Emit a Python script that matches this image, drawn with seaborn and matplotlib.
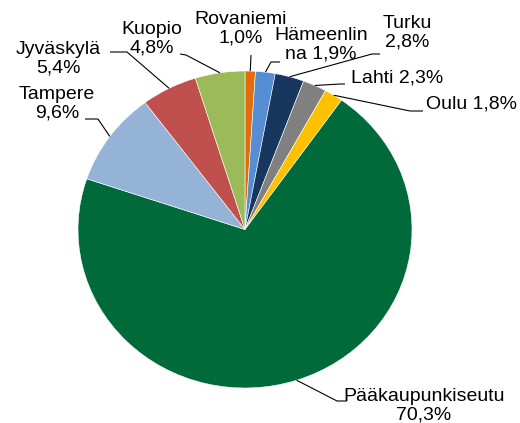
import numpy as np
import matplotlib
matplotlib.use("Agg")
import matplotlib.pyplot as plt
import seaborn as sns

# data
cities = ["Rovaniemi", "Hämeenlinna", "Turku", "Lahti", "Oulu",
          "Pääkaupunkiseutu", "Tampere", "Jyväskylä", "Kuopio"]
shares = [1.0, 1.9, 2.8, 2.3, 1.8, 70.3, 9.6, 5.4, 4.8]
label_texts = ["Rovaniemi\n1,0%", "Hämeenlin\nna 1,9%", "Turku\n2,8%",
               "Lahti 2,3%", "Oulu 1,8%", "Pääkaupunkiseutu\n70,3%",
               "Tampere\n9,6%", "Jyväskylä\n5,4%", "Kuopio\n4,8%"]
colors = ["#E46C0A", "#558ED5", "#17375E", "#808080", "#FFC000",
          "#006A3A", "#95B3D7", "#C0504D", "#9BBB59"]

# label layout in pixels: text centre, line start, elbow
label_pos = [(241, 29), (321, 45), (407, 33), (397, 78), (471, 104),
             (424, 406), (57, 104), (58, 59), (152, 39)]
line_start = [(251, 55), (280, 62), (380, 54), (345, 84), (423, 111),
              (347, 401), (85, 119), (110, 52), (180, 54)]
line_elbow = [(251, 55), (271, 62), (372, 54), (340, 84), (410, 111),
              (337, 401), (98, 119), (127, 52), (186, 55)]

sns.set_theme(style="white")
plt.rcParams['font.family'] = ['Liberation Sans', 'DejaVu Sans']

W, H = 520, 423
CX, CY, RX, RY = 245, 229.5, 167, 158.5


def px2d(p):
    return ((p[0] - CX) / RX, (CY - p[1]) / RY)


fig = plt.figure(figsize=(W / 100, H / 100), dpi=100)
ax = fig.add_axes([(CX - RX) / W, (H - CY - RY) / H, 2 * RX / W, 2 * RY / H])
wedges, _ = ax.pie(shares, colors=colors, startangle=90, counterclock=False,
                   wedgeprops=dict(edgecolor="white", linewidth=0.4))
ax.set_aspect("auto")
ax.set_xlim(-1, 1)
ax.set_ylim(-1, 1)
ax.axis("off")

for w, txt, tp, sp, ep in zip(wedges, label_texts, label_pos, line_start, line_elbow):
    mid = np.deg2rad((w.theta1 + w.theta2) / 2)
    end = (np.cos(mid), np.sin(mid))
    s = px2d(sp)
    e = px2d(ep)
    ax.plot([s[0], e[0], end[0]], [s[1], e[1], end[1]], color="black",
            lw=0.8, clip_on=False, solid_capstyle="butt")
    t = px2d(tp)
    ax.text(t[0], t[1], txt, ha="center", va="center", multialignment="center",
            fontsize=14, color="black", linespacing=1.12, clip_on=False)

fig.savefig("out.png", dpi=100)
